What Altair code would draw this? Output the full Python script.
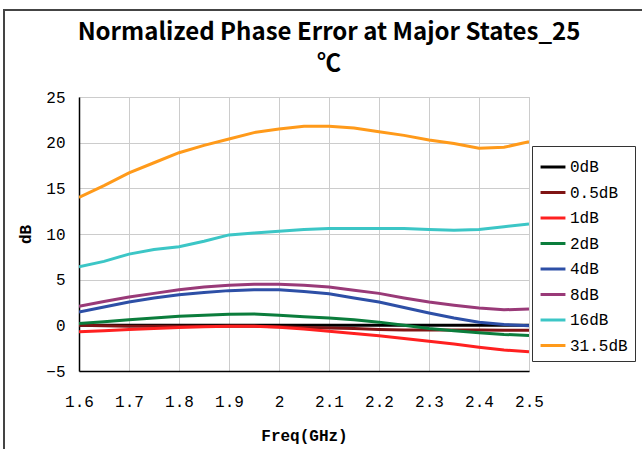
import altair as alt
import pandas as pd

freq = [1.60, 1.65, 1.70, 1.75, 1.80, 1.85, 1.90, 1.95, 2.00, 2.05,
        2.10, 2.15, 2.20, 2.25, 2.30, 2.35, 2.40, 2.45, 2.50]

s_0dB = [0.0, 0.0, 0.0, 0.0, 0.0, 0.0, 0.0, 0.0, 0.0, 0.0,
         0.0, 0.0, 0.0, 0.0, 0.0, 0.0, 0.0, 0.0, 0.0]
s_05dB = [0.0, -0.05, -0.1, -0.1, -0.1, -0.1, -0.1, -0.1, -0.15, -0.25,
          -0.3, -0.35, -0.45, -0.5, -0.5, -0.5, -0.5, -0.55, -0.55]
s_1dB = [-0.7, -0.6, -0.45, -0.35, -0.25, -0.15, -0.1, -0.1, -0.2, -0.4,
         -0.65, -0.9, -1.15, -1.45, -1.75, -2.05, -2.4, -2.7, -2.9]
s_2dB = [0.2, 0.4, 0.6, 0.8, 1.0, 1.1, 1.2, 1.25, 1.1, 0.95,
         0.8, 0.6, 0.35, 0.0, -0.35, -0.6, -0.8, -1.0, -1.1]
s_4dB = [1.45, 2.0, 2.55, 3.0, 3.35, 3.6, 3.8, 3.9, 3.9, 3.7,
         3.45, 3.0, 2.55, 1.95, 1.35, 0.8, 0.35, 0.1, -0.05]
s_8dB = [2.1, 2.6, 3.1, 3.5, 3.9, 4.2, 4.4, 4.5, 4.5, 4.4,
         4.2, 3.85, 3.5, 3.0, 2.55, 2.2, 1.9, 1.7, 1.8]
s_16dB = [6.4, 7.0, 7.8, 8.3, 8.6, 9.2, 9.9, 10.1, 10.3, 10.5,
          10.6, 10.6, 10.6, 10.6, 10.5, 10.4, 10.5, 10.8, 11.1]
s_315dB = [14.0, 15.3, 16.7, 17.8, 18.9, 19.7, 20.4, 21.1, 21.5, 21.8,
           21.8, 21.6, 21.2, 20.8, 20.3, 19.9, 19.4, 19.5, 20.1]

series_names = ["0dB", "0.5dB", "1dB", "2dB", "4dB", "8dB", "16dB", "31.5dB"]
series_values = [s_0dB, s_05dB, s_1dB, s_2dB, s_4dB, s_8dB, s_16dB, s_315dB]
series_colors = ["#000000", "#7f1414", "#ff2020", "#0b7d3c", "#2d4fa6",
                 "#993a78", "#3cc6c6", "#ff9a1a"]

x_ticks = [1.6, 1.7, 1.8, 1.9, 2.0, 2.1, 2.2, 2.3, 2.4, 2.5]
y_ticks = [-5, 0, 5, 10, 15, 20, 25]

rows = []
for name, vals in zip(series_names, series_values):
    for f, v in zip(freq, vals):
        rows.append({"Freq": f, "Value": v, "Series": name})
df = pd.DataFrame(rows)

mono = "Liberation Mono"

lines = alt.Chart(df).mark_line(strokeWidth=3, clip=True).encode(
    x=alt.X("Freq:Q",
            scale=alt.Scale(domain=[1.6, 2.5], nice=False, zero=False),
            axis=alt.Axis(values=x_ticks, format=".1~f", title="Freq(GHz)",
                          grid=True, ticks=False, labelPadding=22,
                          labelFlush=False, labelOverlap=False,
                          titleY=64, titleBaseline="middle")),
    y=alt.Y("Value:Q",
            scale=alt.Scale(domain=[-5, 25], nice=False, zero=False),
            axis=alt.Axis(values=y_ticks, title="dB", grid=True, ticks=False,
                          labelPadding=14, labelFlush=False,
                          titleAngle=-90, titleX=-54,
                          titleY=137, titleBaseline="middle")),
    color=alt.Color("Series:N",
                    scale=alt.Scale(domain=series_names, range=series_colors),
                    sort=series_names,
                    legend=alt.Legend(title=None, orient="none", legendX=453,
                                      legendY=49, symbolType="stroke",
                                      symbolSize=620, symbolStrokeWidth=3,
                                      rowPadding=3.5, padding=7, labelOffset=3,
                                      strokeColor="#333333", fillColor="white",
                                      labelFont=mono, labelFontSize=16,
                                      labelColor="#000000")),
    order=alt.Order("Series:N"),
)

frame = alt.Chart(alt.Data(values=[{}])).mark_rect(
    filled=False, stroke="#444444", strokeWidth=2
).encode(
    x=alt.value(-75), x2=alt.value(600), y=alt.value(-87), y2=alt.value(400)
)

chart = alt.layer(frame, lines).properties(
    width=450,
    height=274,
    background="white",
    autosize=alt.AutoSizeParams(type="none"),
    padding={"left": 79, "top": 97, "right": 113, "bottom": 78},
    title=alt.TitleParams(
        text=["Normalized Phase Error at Major States_25", "℃"],
        anchor="middle", dx=25, offset=-67, lineHeight=31,
        font="Noto Sans CJK SC", fontSize=24, fontWeight="bold",
        color="#000000"),
).configure_view(
    stroke="#c0c0c0", strokeWidth=1
).configure_axis(
    gridColor="#cccccc", gridWidth=1, domainColor="#000000", domainWidth=1.5,
    labelFont=mono, labelFontSize=16, labelColor="#000000",
    titleFont=mono, titleFontSize=16, titleFontWeight="bold",
    titleColor="#000000"
)

chart.save("out.html", embed_options={"renderer": "svg", "actions": False})
